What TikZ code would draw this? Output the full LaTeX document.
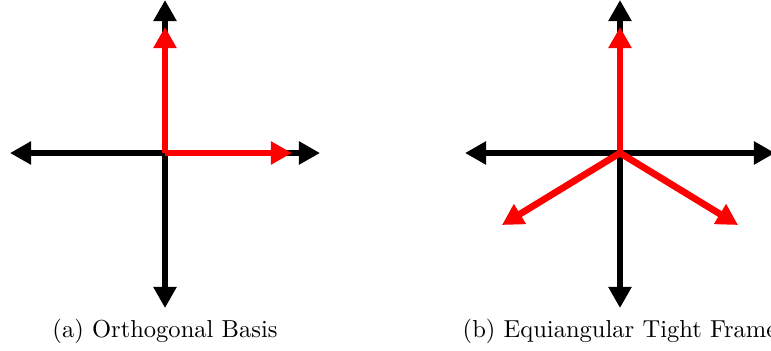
\documentclass[tikz,border=0pt]{standalone}
\usepackage{xcolor}
\usepackage{tikz}
\usetikzlibrary{arrows.meta}
\definecolor{framered}{RGB}{255,0,0}
\tikzset{
  axisline/.style={line width=2.75pt,-{Triangle[length=8.6pt,width=9pt]},black},
  vecline/.style={line width=2.75pt,-{Triangle[length=8.6pt,width=9pt]},framered},
  caption/.style={font=\normalsize,inner sep=0pt}
}

\begin{document}
\begin{tikzpicture}[x=0.4074pt,y=0.4074pt]
\useasboundingbox (0,0) rectangle (771,350);
% (a) orthogonal basis
\coordinate (oa) at (165,197);
\coordinate (aW) at (10,197);
\coordinate (aE) at (320,197);
\coordinate (aN) at (165,350);
\coordinate (aS) at (165,42);
\coordinate (ae1) at (292,197);
\coordinate (ae2) at (165,323);
\draw[axisline] (oa) -- (aW);
\draw[axisline] (oa) -- (aE);
\draw[axisline] (oa) -- (aN);
\draw[axisline] (oa) -- (aS);
\draw[vecline] (oa) -- (ae1);
\draw[vecline] (oa) -- (ae2);
\node[caption] (capa) at (165,19) {(a) Orthogonal Basis};
% (b) equiangular tight frame
\coordinate (ob) at (620,197);
\coordinate (bW) at (465,197);
\coordinate (bE) at (775,197);
\coordinate (bN) at (620,350);
\coordinate (bS) at (620,42);
\coordinate (bf1) at (620,323);
\coordinate (bf2) at (502,125);
\coordinate (bf3) at (738,125);
\draw[axisline] (ob) -- (bW);
\draw[axisline] (ob) -- (bE);
\draw[axisline] (ob) -- (bN);
\draw[axisline] (ob) -- (bS);
\draw[vecline] (ob) -- (bf1);
\draw[vecline] (ob) -- (bf2);
\draw[vecline] (ob) -- (bf3);
\node[caption] (capb) at (620,19) {(b) Equiangular Tight Frame};
\end{tikzpicture}
\end{document}
